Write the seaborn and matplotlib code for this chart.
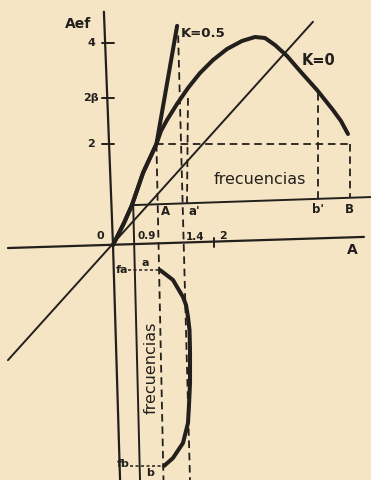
import matplotlib
matplotlib.use("Agg")
import matplotlib.pyplot as plt
import seaborn as sns
import pandas as pd

# --- Amplitude characteristic: effective output amplitude (Aef) versus input amplitude (A)

# part common to both characteristics, from the origin up to Aef = 2
common_a = [0.0, 0.218, 0.376, 0.594, 0.86]
common_aef = [0.0, 0.436, 0.792, 1.426, 2.0]

# K = 0.5 branch (nearly straight, steep)
k05_a = [0.86, 1.27]
k05_aef = [2.0, 4.34]

# K = 0 branch (rises to a maximum, then falls)
k0_a = [0.86, 0.950, 1.069, 1.267, 1.485, 1.723, 1.980, 2.257, 2.554, 2.812,
        3.010, 3.208, 3.446, 3.703, 4.040, 4.356, 4.515, 4.653]
k0_aef = [2.0, 2.257, 2.475, 2.792, 3.109, 3.406, 3.663, 3.881, 4.040, 4.119,
          4.099, 3.960, 3.743, 3.446, 3.069, 2.673, 2.455, 2.198]

# straight reference line through the origin
ref_a = [-2.08, 3.96]
ref_aef = [-2.28, 4.42]

# axes as drawn
aef_axis_a = [-0.18, 0.0, 0.14]
aef_axis_aef = [4.62, 0.0, -4.66]
a_axis_a = [-2.08, 4.97]
a_axis_aef = [-0.06, 0.16]

# frequency scale of the upper diagram and the line at its start
freq_axis_a = [0.40, 5.12]
freq_axis_aef = [0.79, 0.95]
start_a = [0.40, 0.535]
start_aef = [0.79, -4.66]

# frequency response of the lower diagram (frequency grows downwards)
resp_a = [0.931, 1.188, 1.386, 1.446, 1.485, 1.515, 1.525, 1.525, 1.505,
          1.485, 1.386, 1.188, 1.01]
resp_f = [-0.495, -0.693, -1.030, -1.188, -1.426, -1.683, -2.079, -2.733,
          -3.168, -3.525, -3.921, -4.218, -4.376]

# construction (dashed) lines
level2_a = [0.86, 4.693]
level2_aef = [2.0, 2.0]
proj_A_a = [0.86, 1.0]
proj_A_aef = [2.0, -4.66]
proj_14_a = [1.29, 1.525]
proj_14_aef = [4.15, -4.66]
proj_a1_a = [1.485, 1.465]
proj_a1_aef = [2.91, 0.83]
proj_b1_a = [4.059, 4.059]
proj_b1_aef = [3.01, 0.91]
proj_B_a = [4.693, 4.693]
proj_B_aef = [2.0, 0.93]

# frequency limits fa, fb
fa_a = [0.297, 0.9]
fa_f = [-0.495, -0.495]
fb_a = [0.337, 1.0]
fb_f = [-4.376, -4.376]

# scale ticks
aef_ticks = [4.0, 2.91, 2.0]
aef_tick_labels = ["4", "2β", "2"]
a_tick = 2.0

sns.set_theme(style="white")
plt.rcParams["font.family"] = ["DejaVu Sans"]

paper = "#f5e5c4"
ink = "#231f1c"

fig = plt.figure(figsize=(3.71, 4.8), dpi=100, facecolor=paper)
ax = fig.add_axes([0, 0, 1, 1])
ax.set_facecolor(paper)
ax.set_xlim(-113 / 50.5, 258 / 50.5)
ax.set_ylim(-235 / 50.5, 245 / 50.5)
ax.set_axis_off()


def draw(xs, ys, lw=1.4, ls="-"):
    df = pd.DataFrame({"x": xs, "y": ys})
    sns.lineplot(data=df, x="x", y="y", sort=False, estimator=None, ax=ax,
                 color=ink, lw=lw, linestyle=ls, solid_capstyle="round",
                 solid_joinstyle="round")


dash = (0, (4.2, 2.6))
dot = (0, (2.0, 1.6))

# axes and thin lines
draw(aef_axis_a, aef_axis_aef, lw=1.6)
draw(a_axis_a, a_axis_aef, lw=1.6)
draw(ref_a, ref_aef, lw=1.4)
draw(freq_axis_a, freq_axis_aef, lw=1.4)
draw(start_a, start_aef, lw=1.4)

# construction lines
for xs, ys in [(level2_a, level2_aef), (proj_A_a, proj_A_aef),
               (proj_14_a, proj_14_aef), (proj_a1_a, proj_a1_aef),
               (proj_b1_a, proj_b1_aef), (proj_B_a, proj_B_aef)]:
    draw(xs, ys, lw=1.3, ls=dash)
draw(fa_a, fa_f, lw=1.1, ls=dot)
draw(fb_a, fb_f, lw=1.1, ls=dot)

# characteristics
draw(common_a + k05_a[1:], common_aef + k05_aef[1:], lw=2.9)
draw(common_a + k0_a[1:], common_aef + k0_aef[1:], lw=2.9)
draw(resp_a, resp_f, lw=2.9)

# ticks on the Aef scale and on the A scale
for t in aef_ticks:
    draw([-0.22, 0.02], [t, t], lw=1.4)
draw([a_tick, a_tick], [-0.04, 0.14], lw=1.4)

txt = dict(color=ink, ha="center", va="center", fontweight="bold")
ax.text(-0.69, 4.38, "Aef", fontsize=10, **txt)
for t, lab in zip(aef_ticks, aef_tick_labels):
    ax.text(-0.43, t, lab, fontsize=8, **txt)
ax.text(-0.26, 0.18, "0", fontsize=8, **txt)
ax.text(0.66, 0.18, "0.9", fontsize=7.5, **txt)
ax.text(1.63, 0.16, "1.4", fontsize=7.5, **txt)
ax.text(2.18, 0.18, "2", fontsize=8, **txt)
ax.text(4.73, -0.10, "A", fontsize=10, **txt)
ax.text(1.78, 4.18, "K=0.5", fontsize=9.5, **txt)
ax.text(4.06, 3.66, "K=0", fontsize=10.5, **txt)

ax.text(1.03, 0.67, "A", fontsize=8.5, **txt)
ax.text(1.62, 0.67, "a'", fontsize=8.5, **txt)
ax.text(4.06, 0.71, "b'", fontsize=8.5, **txt)
ax.text(4.69, 0.71, "B", fontsize=8.5, **txt)

ax.text(0.18, -0.50, "fa", fontsize=8, **txt)
ax.text(0.63, -0.36, "a", fontsize=8, **txt)
ax.text(0.20, -4.34, "fb", fontsize=8, **txt)
ax.text(0.73, -4.52, "b", fontsize=8, **txt)

txt_plain = dict(color=ink, ha="center", va="center")
ax.text(2.91, 1.29, "frecuencias", fontsize=11.5, **txt_plain)
ax.text(0.75, -2.44, "frecuencias", fontsize=11.5, rotation=90, **txt_plain)

fig.savefig("out.png", dpi=100, facecolor=paper)
